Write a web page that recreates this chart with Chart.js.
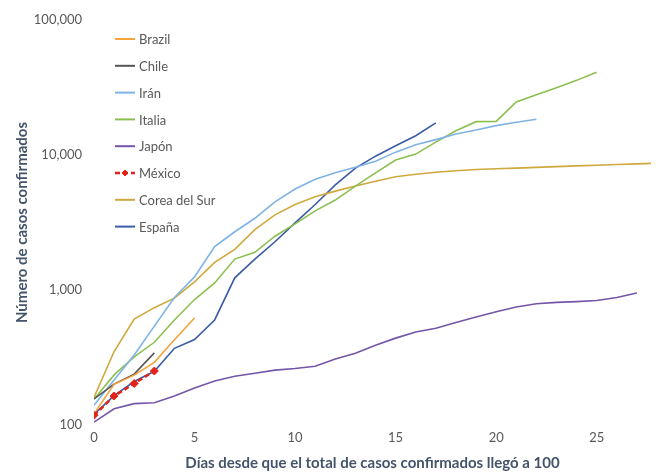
<!DOCTYPE html>
<html lang="es">
<head>
<meta charset="utf-8">
<title>Casos confirmados desde el caso 100</title>
<script src="https://cdn.jsdelivr.net/npm/chart.js@4.4.1/dist/chart.umd.min.js"></script>
<style>
  html, body { margin: 0; padding: 0; background: #ffffff; }
  #chart { display: block; }
</style>
</head>
<body>
<canvas id="chart" width="656" height="473"></canvas>
<script>
  // Casos confirmados acumulados, un valor por día desde el caso 100
  const brazil = [121, 200, 234, 291, 428, 621];
  const chile = [156, 201, 238, 342];
  const iran = [140, 215, 330, 540, 880, 1250, 2100, 2700, 3400, 4500, 5600, 6600, 7400, 8100, 9000, 10500, 11900, 13000, 14300, 15300, 16500, 17500, 18400];
  const italia = [155, 235, 320, 410, 600, 850, 1128, 1694, 1900, 2502, 3089, 3858, 4636, 5883, 7375, 9172, 10149, 12462, 15113, 17660, 17750, 24747, 27980, 31506, 35713, 41035];
  const japon = [105, 132, 144, 146, 164, 188, 212, 230, 242, 255, 262, 272, 308, 340, 390, 440, 488, 520, 575, 630, 690, 748, 790, 810, 820, 835, 880, 950];
  const mexico = [118, 164, 203, 251];
  const corea = [160, 350, 610, 740, 870, 1150, 1600, 2000, 2800, 3600, 4300, 4900, 5400, 5900, 6400, 6900, 7200, 7450, 7650, 7800, 7900, 8000, 8100, 8200, 8300, 8400, 8500, 8600, 8700];
  const espana = [120, 165, 210, 250, 370, 430, 600, 1231, 1695, 2277, 3146, 4300, 6000, 8000, 9800, 11700, 13900, 17300];

  const xTickValues = [0, 5, 10, 15, 20, 25];
  const yTickValues = [100, 1000, 10000, 100000];

  const TEXT_GRAY = "#595959";
  const TITLE_BLUE = "#44546a";
  const FONT = "Lato, 'Open Sans', sans-serif";

  function toPoints(values) {
    return values.map((v, i) => ({ x: i, y: v }));
  }

  function line(label, values, color, extra) {
    return Object.assign({
      label: label,
      data: toPoints(values),
      borderColor: color,
      backgroundColor: color,
      borderWidth: 1.6,
      pointRadius: 0,
      tension: 0,
      fill: false,
      order: 1,
    }, extra || {});
  }

  const datasets = [
    line("Brazil", brazil, "#f4a33d"),
    line("Chile", chile, "#555555"),
    line("Irán", iran, "#7fb3e4"),
    line("Italia", italia, "#8cbf50"),
    line("Japón", japon, "#7456a8"),
    line("México", mexico, "#e2231a", {
      borderWidth: 2.5,
      borderDash: [5, 3],
      pointStyle: "rectRot",
      pointRadius: 4,
      pointBorderWidth: 1,
      pointBackgroundColor: "#e2231a",
      pointBorderColor: "#e2231a",
      order: 0,
    }),
    line("Corea del Sur", corea, "#cfa93c"),
    line("España", espana, "#3a5ba6"),
  ];

  // legend drawn inside the plot, top-left, like the original
  const insideLegend = {
    id: "insideLegend",
    afterDraw(chart) {
      const ctx = chart.ctx;
      ctx.save();
      ctx.font = "13px " + FONT;
      ctx.textBaseline = "middle";
      ctx.textAlign = "left";
      chart.data.datasets.forEach((ds, i) => {
        const y = 39 + i * 26.8;
        ctx.strokeStyle = ds.borderColor;
        ctx.lineWidth = ds.borderWidth > 2 ? 2.5 : 2;
        ctx.setLineDash(ds.borderDash || []);
        ctx.beginPath();
        ctx.moveTo(115, y);
        ctx.lineTo(135, y);
        ctx.stroke();
        ctx.setLineDash([]);
        if (ds.pointRadius) {
          ctx.fillStyle = ds.pointBackgroundColor;
          ctx.strokeStyle = ds.pointBorderColor;
          ctx.lineWidth = 1;
          Chart.helpers.drawPoint(ctx, { pointStyle: ds.pointStyle, radius: 3, borderWidth: 1, rotation: 0 }, 125, y);
        }
        ctx.fillStyle = TEXT_GRAY;
        ctx.fillText(ds.label, 139, y + 1);
      });
      ctx.restore();
    },
  };

  new Chart(document.getElementById("chart").getContext("2d"), {
    type: "line",
    data: { datasets: datasets },
    plugins: [insideLegend],
    options: {
      responsive: false,
      animation: false,
      layout: { padding: { top: 20, right: 0, bottom: 0, left: 0 } },
      plugins: { legend: { display: false }, tooltip: { enabled: false } },
      scales: {
        x: {
          type: "linear",
          min: 0,
          max: 27.7,
          grid: { display: false, drawTicks: false },
          border: { display: false },
          afterBuildTicks: (scale) => { scale.ticks = xTickValues.map((v) => ({ value: v })); },
          afterFit: (scale) => { scale.height = 48; },
          ticks: { color: TEXT_GRAY, font: { family: FONT, size: 13 }, padding: 5, maxRotation: 0 },
          title: {
            display: true,
            text: "Días desde que el total de casos confirmados llegó a 100",
            color: TITLE_BLUE,
            font: { family: FONT, size: 15, weight: "bold" },
            padding: { top: 6, bottom: 1 },
          },
        },
        y: {
          type: "logarithmic",
          min: 100,
          max: 100000,
          grid: { display: false, drawTicks: false },
          border: { display: false },
          afterBuildTicks: (scale) => { scale.ticks = yTickValues.map((v) => ({ value: v })); },
          afterFit: (scale) => { scale.width = 94; },
          ticks: {
            color: TEXT_GRAY,
            font: { family: FONT, size: 13 },
            padding: 12,
            callback: (v) => Number(v).toLocaleString("en-US"),
          },
          title: {
            display: true,
            text: "Número de casos confirmados",
            color: TITLE_BLUE,
            font: { family: FONT, size: 15, weight: "bold" },
            padding: { top: 13, bottom: 0 },
          },
        },
      },
    },
  });
</script>
</body>
</html>
